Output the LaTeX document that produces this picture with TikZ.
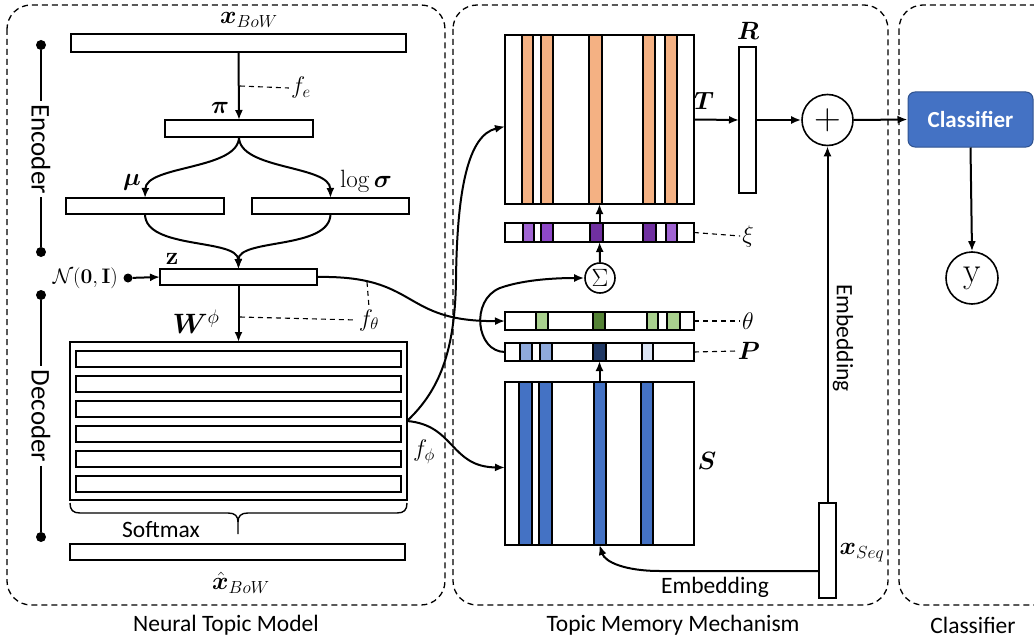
\RequirePackage{fix-cm}
\documentclass[tikz,border=0pt]{standalone}
\usepackage{amsmath}
\usepackage{bm}
\usepackage[no-math]{fontspec}
\setmainfont{Carlito}
\usetikzlibrary{arrows.meta,calc}
\definecolor{orng}{HTML}{F4B183}
\definecolor{purA}{HTML}{A064D2}
\definecolor{purB}{HTML}{8E48C8}
\definecolor{purD}{HTML}{7030A0}
\definecolor{grnL}{HTML}{A9D18E}
\definecolor{grnD}{HTML}{548235}
\definecolor{bluL}{HTML}{8FAADC}
\definecolor{bluD}{HTML}{203864}
\definecolor{bluX}{HTML}{DAE3F3}
\definecolor{bluS}{HTML}{4472C4}
\definecolor{bluB}{HTML}{2F528F}
\begin{document}
\begin{tikzpicture}[x=1pt,y=-1pt,
  vecbar/.style={draw, line width=2.3pt, fill=white, inner sep=0pt, outer sep=0pt},
  cell/.style={draw, line width=1.8pt},
  conn/.style={line width=2pt, -{Latex[length=10pt,width=8pt]}},
  plainline/.style={line width=2pt},
  panel/.style={draw, line width=1.3pt, dash pattern=on 6pt off 4pt, rounded corners=24pt},
  guide/.style={line width=1.1pt, dash pattern=on 5pt off 4pt},
  lbl/.style={font=\fontsize{23.5}{28}\selectfont},
  biglbl/.style={font=\fontsize{27}{32}\selectfont},
  mlbl/.style={font=\fontsize{25}{29}\selectfont, inner sep=1pt},
  flbl/.style={font=\fontsize{24}{28}\selectfont, inner sep=2pt},
  dotn/.style={circle, fill=black, inner sep=0pt, minimum size=10pt},
  ring/.style={circle, draw, line width=1.6pt, inner sep=0pt}
]
\useasboundingbox (0,0) rectangle (1034,642);
\clip (0,0) rectangle (1034,642);

% panels
\draw[panel] (7,5) rectangle (445,605);
\draw[panel] (453,5) rectangle (888,605);
\draw[panel] (899,5) rectangle (1080,605);
\node[lbl] (lblNTM) at (226,625) {Neural Topic Model};
\node[lbl] (lblTMM) at (673,625) {Topic Memory Mechanism};
\node[lbl] (lblCLS) at (973,625) {Classifier};

% ---------------- Neural topic model ----------------
\node[vecbar, minimum width=335pt, minimum height=18pt] (xbow) at (238.5,43) {};
\node[mlbl] (xbowl) at (249,20) {$\bm{x}_{BoW}$};
\node[vecbar, minimum width=148pt, minimum height=17pt] (pi) at (239,128.5) {};
\node[mlbl] (pil) at (220,108) {$\bm{\pi}$};
\node[vecbar, minimum width=158pt, minimum height=16pt] (mu) at (145,206) {};
\node[mlbl] (mul) at (132,182) {$\bm{\mu}$};
\node[vecbar, minimum width=157pt, minimum height=16pt] (ls) at (330.5,206) {};
\node[mlbl] (lsl) at (366,181) {$\log\bm{\sigma}$};
\node[vecbar, minimum width=157pt, minimum height=16pt] (z) at (238.5,277) {};
\node[mlbl] (zl) at (172,259) {$\mathbf{z}$};
\node[font=\fontsize{21}{24}\selectfont, anchor=east, inner sep=1pt] (nl) at (119,278) {$\mathcal{N}(\mathbf{0},\mathbf{I})$};
\node[dotn, minimum size=9pt] (nd) at (128,278) {};

\draw[conn] (xbow.south) -- (pi.north);
\node[flbl] (fe) at (301,88) {$f_e$};
\draw[guide] (240,86) -- (fe.west);

\draw[conn] (pi.south) .. controls (239,170) and (146,165) .. (mu.north);
\draw[conn] (pi.south) .. controls (239,170) and (330,165) .. (ls.north);
\draw[conn] (mu.south) .. controls (145,250) and (238,238) .. (z.north);
\draw[conn] (ls.south) .. controls (330,250) and (238,238) .. (z.north);
\draw[conn] (nd) -- (z.west);

% encoder bracket
\node[dotn] (e1) at (41,45) {};
\node[dotn] (e2) at (41,252) {};
\node[biglbl, rotate=-90] (enc) at (41,149) {Encoder};
\draw[plainline] (e1) -- (enc.west);
\draw[plainline] (enc.east) -- (e2);

% decoder bracket
\node[dotn] (d1) at (41,295) {};
\node[dotn] (d2) at (41,537) {};
\node[biglbl, rotate=-90] (dec) at (41,416) {Decoder};
\draw[plainline] (d1) -- (dec.west);
\draw[plainline] (dec.east) -- (d2);

% decoder matrix
\node[vecbar, minimum width=337pt, minimum height=158pt] (W) at (238.5,421) {};
\foreach \yy/\nm in {359/w1,384/w2,409/w3,434/w4,459/w5,484/w6}
  \node[vecbar, minimum width=325pt, minimum height=16pt] (\nm) at (238.5,\yy) {};
\draw[conn] (z.south) -- (W.north);
\node[font=\fontsize{28}{30}\selectfont] (wl) at (196,322) {$\bm{W}^{\phi}$};
\node[flbl] (ft) at (369,320) {$f_\theta$};
\draw[guide] (240,317) -- (ft.west);
\draw[guide] (367,282) -- (ft.north);
\node[flbl] (fp) at (424,452) {$f_\phi$};

% brace + softmax
\draw[line width=1.4pt] (70,503) .. controls (70,510) and (73,513) .. (80,513) -- (228,513)
   .. controls (235,513) and (238,516) .. (238,522) -- (238,534);
\draw[line width=1.4pt] (407,503) .. controls (407,510) and (404,513) .. (397,513) -- (248,513)
   .. controls (241,513) and (238,516) .. (238,522);
\node[lbl] (sm) at (161,530) {Softmax};
\node[vecbar, minimum width=335pt, minimum height=16pt] (xhat) at (237.5,552) {};
\node[mlbl, inner sep=0pt] (xhatl) at (241,583) {$\hat{\bm{x}}_{BoW}$};

% ---------------- Topic memory ----------------
% T matrix
\node[vecbar, minimum width=189pt, minimum height=169pt] (T) at (599.5,119.5) {};
\foreach \a/\b in {522/533,541/553,589/602,643/655,665/677}
  \draw[cell, fill=orng] (\a,35) rectangle (\b,204);
\draw[line width=2.3pt] (T.north west) rectangle (T.south east);
\node[mlbl] (Tl) at (704,101) {$\bm{T}$};

% xi
\node[vecbar, minimum width=189pt, minimum height=19pt] (xi) at (599.5,232.5) {};
\foreach \a/\b/\c in {523/534/purA,541/553/purB,590/603/purD,643/656/purD,666/677/purA}
  \draw[cell, fill=\c] (\a,223) rectangle (\b,242);
\draw[line width=2.3pt] (xi.north west) rectangle (xi.south east);
\node[flbl] (xil) at (748,236) {$\xi$};
\draw[guide] (xi.east) -- (xil.west);

% sigma
\node[ring, minimum size=30pt, font=\fontsize{25}{27}\selectfont] (sg) at (600,278) {$\Sigma$};

% theta
\node[vecbar, minimum width=189pt, minimum height=18pt] (th) at (599.5,321) {};
\foreach \a/\b/\c in {536/548/grnL,593/605/grnD,647/658/grnL,667/680/grnL}
  \draw[cell, fill=\c] (\a,312) rectangle (\b,330);
\draw[line width=2.3pt] (th.north west) rectangle (th.south east);
\node[flbl] (thl) at (748,321) {$\theta$};
\draw[guide] (th.east) -- (thl.west);

% P
\node[vecbar, minimum width=189pt, minimum height=18pt] (P) at (599.5,352) {};
\foreach \a/\b/\c in {520/532/bluL,540/552/bluL,593/606/bluD,642/653/bluX}
  \draw[cell, fill=\c] (\a,343) rectangle (\b,361);
\draw[line width=2.3pt] (P.north west) rectangle (P.south east);
\node[mlbl] (Pl) at (749,351) {$\bm{P}$};
\draw[guide] (P.east) -- (Pl.west);

% S
\node[vecbar, minimum width=189pt, minimum height=163pt] (S) at (599.5,463.5) {};
\foreach \a/\b in {519/532,539/552,594/606,641/653}
  \draw[cell, fill=bluS] (\a,382) rectangle (\b,545);
\draw[line width=2.3pt] (S.north west) rectangle (S.south east);
\node[mlbl] (Sl) at (707,461) {$\bm{S}$};

% R and plus
\node[vecbar, minimum width=17pt, minimum height=146pt] (R) at (747.5,120) {};
\node[mlbl] (Rl) at (748,31) {$\bm{R}$};
\node[ring, minimum size=51pt, font=\fontsize{37}{37}\selectfont] (plus) at (827.5,120) {$+$};

% x_seq
\node[vecbar, minimum width=17pt, minimum height=95pt] (xs) at (827.5,550.5) {};
\node[mlbl] (xsl) at (862,553) {$\bm{x}_{Seq}$};
\node[lbl, rotate=-90] (emb1) at (843,338) {Embedding};
\node[lbl] (emb2) at (715,587) {Embedding};

% connectors in the middle
\draw[conn] (S.north) -- (P.south);
\draw[conn] (sg.north) -- (xi.south);
\draw[conn] (xi.north) -- (T.south);
\draw[conn] (P.west) .. controls (476,352) and (470,300) .. (500,288)
   .. controls (525,279) and (560,278) .. (sg.west);
\draw[conn] (z.east) .. controls (420,275) and (400,322) .. (th.west);
\draw[conn] (W.east) .. controls (440,390) and (455,350) .. (456,280)
   .. controls (457,190) and (468,135) .. ([yshift=-7pt]T.west);
\draw[conn] (W.east) .. controls (455,425) and (450,467) .. ([yshift=-4pt]S.west);
\draw[conn] (T.east) -- (R.west);
\draw[conn] (R.east) -- (plus.west);
\draw[conn] (xs.north) -- (plus.south);
\draw[conn] ([yshift=-20.5pt]xs.west) -- (660,571) .. controls (625,571) and (605,562) .. (S.south);

% ---------------- Classifier ----------------
\node[rounded corners=7pt, fill=bluS, draw=bluB, line width=1pt, minimum width=125pt,
      minimum height=55pt, text=white, font=\fontsize{23}{27}\selectfont\bfseries] (cls) at (970.5,119.5) {Classifier};
\node[ring, minimum size=52pt, font=\fontsize{36}{38}\selectfont] (yo) at (972,278) {$\mathrm{y}$};
\draw[conn] (plus.east) -- (cls.west);
\draw[conn] (cls.south) -- (yo.north);
\end{tikzpicture}
\end{document}
